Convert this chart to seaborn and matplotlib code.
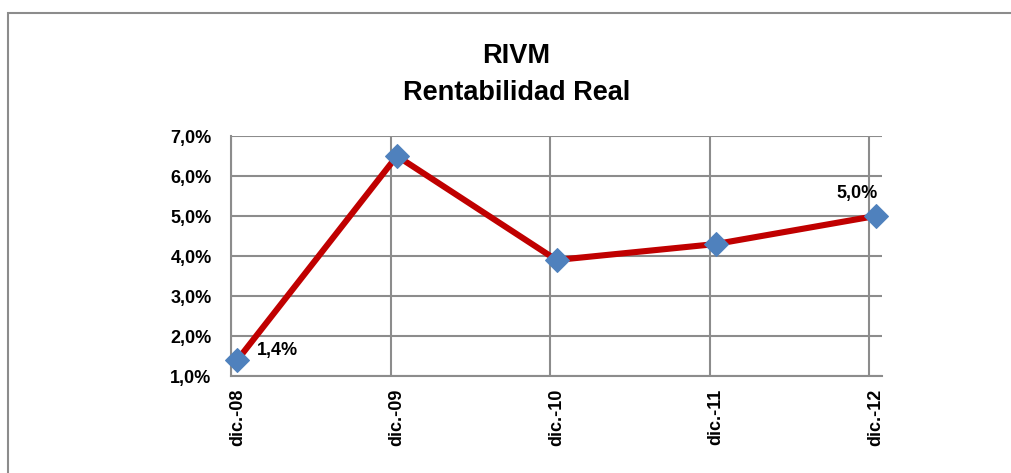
import pandas as pd
import numpy as np
import seaborn as sns
import matplotlib.pyplot as plt
from matplotlib.patches import Rectangle

# Data
periods = ['dic.-08', 'dic.-09', 'dic.-10', 'dic.-11', 'dic.-12']
rentabilidad = [1.4, 6.5, 3.9, 4.3, 5.0]
y_ticks = [1, 2, 3, 4, 5, 6, 7]
y_tick_labels = ['1,0%', '2,0%', '3,0%', '4,0%', '5,0%', '6,0%', '7,0%']

df = pd.DataFrame({'pos': range(len(periods)), 'valor': rentabilidad})

sns.set_style('white')
plt.rcParams['font.family'] = ['Liberation Sans', 'DejaVu Sans']
plt.rcParams['text.color'] = 'black'

fig = plt.figure(figsize=(10.11, 4.73), dpi=100)
ax = fig.add_axes([231 / 1011, 97 / 473, 651 / 1011, 240 / 473])

grid_col = '#8c8c8c'
sns.lineplot(data=df, x='pos', y='valor', ax=ax, color='#C00000', linewidth=4.4,
             marker='D', markersize=12, markerfacecolor='#4F81BD',
             markeredgecolor='#4F81BD', clip_on=False, zorder=5)

# the category gridlines sit a few pixels left of the points in the original
shift = 0.04
ax.set_xlim(-shift, 4.08 - shift)
ax.set_ylim(1, 7)
ax.set_xticks(range(len(periods)))
ax.set_xticklabels(periods, rotation=90, fontsize=13, fontweight='bold')
ax.set_xticks([p - shift for p in range(len(periods))], minor=True)
ax.set_yticks(y_ticks)
ax.set_yticklabels(y_tick_labels, fontsize=13, fontweight='bold')
ax.set_xlabel('')
ax.set_ylabel('')

ax.grid(True, axis='y', color=grid_col, linewidth=1.5)
ax.grid(True, axis='x', which='minor', color=grid_col, linewidth=1.5)
ax.tick_params(axis='both', length=5, width=1.5, color=grid_col, labelcolor='black',
               direction='out')
ax.tick_params(axis='x', which='major', length=0, pad=9)
ax.tick_params(axis='x', which='minor', length=5, width=1.5, color=grid_col, direction='out')
ax.tick_params(axis='y', pad=9)
for side in ['top', 'right']:
    ax.spines[side].set_visible(False)
for side in ['left', 'bottom']:
    ax.spines[side].set_color(grid_col)
    ax.spines[side].set_linewidth(1.5)

# Data labels for first and last point
ax.annotate('1,4%', (0, rentabilidad[0]), xytext=(14, 7), textcoords='offset points',
            fontsize=13, fontweight='bold', ha='left', va='center', color='black')
ax.annotate('5,0%', (4, rentabilidad[-1]), xytext=(-13, 16), textcoords='offset points',
            fontsize=13, fontweight='bold', ha='center', va='center', color='black')

fig.text(516 / 1011, 1 - 63 / 473, 'RIVM', ha='center', va='baseline',
         fontsize=19.5, fontweight='bold', color='black')
fig.text(517 / 1011, 1 - 100 / 473, 'Rentabilidad Real', ha='center', va='baseline',
         fontsize=19.5, fontweight='bold', color='black')

# chart frame
fig.patches.append(Rectangle((8 / 1011, -0.1), 1.2, 0.1 + (473 - 13) / 473,
                             transform=fig.transFigure, fill=False,
                             edgecolor='#8c8c8c', linewidth=1.5))

fig.savefig('out.png', dpi=100)
